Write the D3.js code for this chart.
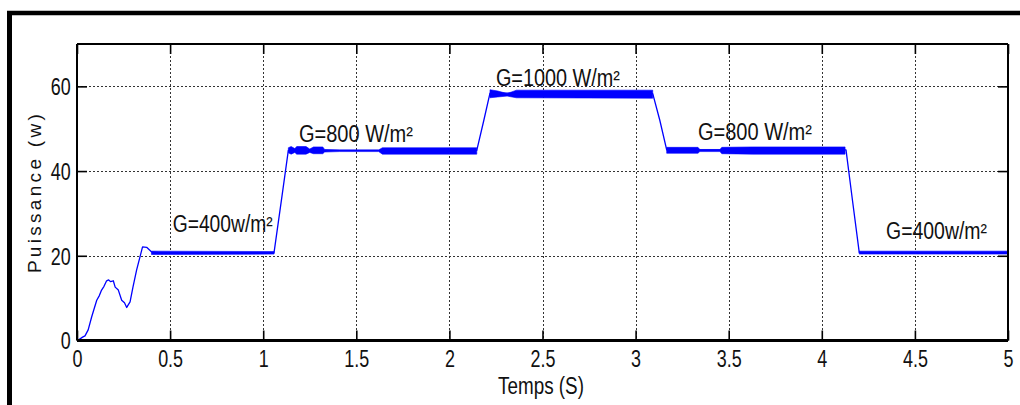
<!DOCTYPE html>
<html>
<head>
<meta charset="utf-8">
<script src="https://cdn.jsdelivr.net/npm/d3@7"></script>
<style>
  html, body { margin: 0; padding: 0; background: #fff; }
  svg { display: block; }
  text { font-family: "Liberation Sans", Arial, sans-serif; }
</style>
</head>
<body>
<svg id="chart" width="1020" height="405"></svg>
<script>
// ---- Data ----
// main trace: [time (s), power (W)]
const traceTime  = [0, 0.007, 0.03, 0.043, 0.06, 0.079, 0.09, 0.106, 0.12, 0.132, 0.145, 0.159, 0.17, 0.18, 0.195, 0.205, 0.222, 0.24, 0.255, 0.267, 0.285, 0.30, 0.32, 0.352, 0.374, 0.401, 0.45, 1.058, 1.099, 1.135, 2.147, 2.185, 2.218, 3.092, 3.13, 3.167, 4.13, 4.165, 4.201, 5.0];
const tracePower = [0, 0.1, 0.8, 1.1, 2.5, 5.6, 7.2, 9.5, 10.6, 11.9, 12.8, 14.1, 14.3, 13.9, 14.1, 12.6, 11.9, 9.5, 8.9, 7.8, 9.1, 12.5, 16.6, 22.1, 22.0, 20.9, 20.7, 20.7, 33.5, 44.9, 44.9, 52.0, 58.4, 58.3, 52.0, 45.0, 45.0, 33.0, 20.8, 20.8];

// oscillation envelope (ripple band): time, lower, upper
const bandTime  = [0.40, 1.058, null, 1.135, 1.15, 1.17, 1.18, 1.23, 1.25, 1.27, 1.32, 1.33, 1.41, 1.62, 1.64, 2.147, null, 2.218, 2.26, 2.31, 2.36, 3.092, null, 3.167, 3.335, 3.345, 3.453, 3.463, 3.63, 4.125, null, 4.201, 5.0];
const bandLow   = [20.3, 20.4, null, 44.3, 44.0, 44.4, 44.0, 44.0, 44.4, 44.1, 44.1, 44.5, 44.6, 44.6, 44.0, 44.0, null, 57.3, 57.5, 57.7, 57.3, 57.2, null, 44.2, 44.2, 44.6, 44.6, 44.1, 44.0, 44.0, null, 20.4, 20.4];
const bandHigh  = [21.1, 21.0, null, 45.5, 45.8, 45.3, 45.8, 45.8, 45.2, 45.7, 45.7, 45.1, 45.0, 45.0, 45.5, 45.5, null, 59.2, 58.9, 58.3, 59.1, 59.1, null, 45.6, 45.6, 45.1, 45.1, 45.6, 45.7, 45.7, null, 21.1, 21.1];

const xTicks = [0, 0.5, 1, 1.5, 2, 2.5, 3, 3.5, 4, 4.5, 5];
const xTickLabels = ["0", "0.5", "1", "1.5", "2", "2.5", "3", "3.5", "4", "4.5", "5"];
const yTicks = [0, 20, 40, 60];
const yTickLabels = ["0", "20", "40", "60"];

const annotations = ["G=400w/m²", "G=800 W/m²", "G=1000 W/m²", "G=800 W/m²", "G=400w/m²"];
const annotTime   = [0.514, 1.192, 2.25, 3.335, 4.345];
const annotPower  = [25.6, 46.9, 60.1, 47.3, 24.0];

const xLabel = "Temps (S)";
const yLabel = "Puissance (w)";

// ---- Layout ----
const L = 77, R = 1008, T = 44, B = 340.5;
const svg = d3.select("#chart");
const x = d3.scaleLinear().domain([0, 5]).range([L, R]);
const y = d3.scaleLinear().domain([0, 70]).range([B, T]);
const SX = 0.78; // horizontal condensation for the narrow MATLAB font

svg.append("rect").attr("width", 1020).attr("height", 405).attr("fill", "#fff");

// outer frame
svg.append("line").attr("x1", 7).attr("x2", 1020).attr("y1", 13).attr("y2", 13)
  .attr("stroke", "#000").attr("stroke-width", 4.5);
svg.append("line").attr("x1", 9.5).attr("x2", 9.5).attr("y1", 11).attr("y2", 405)
  .attr("stroke", "#000").attr("stroke-width", 5);

// grid
const grid = svg.append("g").attr("stroke", "#333").attr("stroke-width", 1).attr("stroke-dasharray", "2,2");
grid.selectAll("line.vx").data(xTicks.filter(d => d > 0 && d < 5)).join("line")
  .attr("x1", d => Math.round(x(d)) + 0.5).attr("x2", d => Math.round(x(d)) + 0.5)
  .attr("y1", T).attr("y2", B);
grid.selectAll("line.hy").data(yTicks.filter(d => d > 0)).join("line")
  .attr("y1", d => Math.round(y(d)) + 0.5).attr("y2", d => Math.round(y(d)) + 0.5)
  .attr("x1", L).attr("x2", R);

// data: ripple band
const idx = d3.range(bandTime.length);
const area = d3.area()
  .defined(i => bandTime[i] !== null)
  .x(i => x(bandTime[i]))
  .y0(i => y(bandLow[i]))
  .y1(i => y(bandHigh[i]));
svg.append("path").attr("d", area(idx)).attr("fill", "#0000ff").attr("stroke", "#0000ff").attr("stroke-width", 0.6);

// data: main trace
const line = d3.line().x(i => x(traceTime[i])).y(i => y(tracePower[i]));
svg.append("path").attr("d", line(d3.range(traceTime.length)))
  .attr("fill", "none").attr("stroke", "#0000ff").attr("stroke-width", 1.3).attr("stroke-linejoin", "round");

// axes (MATLAB box with inward ticks)
const tickLen = 10;
const xb = svg.append("g").attr("transform", `translate(0,${B})`)
  .call(d3.axisBottom(x).tickValues(xTicks).tickSizeInner(-tickLen).tickSizeOuter(0).tickPadding(14)
    .tickFormat((d, i) => xTickLabels[i]));
const xt = svg.append("g").attr("transform", `translate(0,${T})`)
  .call(d3.axisTop(x).tickValues(xTicks).tickSizeInner(-tickLen).tickSizeOuter(0).tickFormat(""));
const yl = svg.append("g").attr("transform", `translate(${L},0)`)
  .call(d3.axisLeft(y).tickValues(yTicks).tickSizeInner(-tickLen).tickSizeOuter(0).tickPadding(8)
    .tickFormat((d, i) => yTickLabels[i]));
const yr = svg.append("g").attr("transform", `translate(${R},0)`)
  .call(d3.axisRight(y).tickValues(yTicks).tickSizeInner(-tickLen).tickSizeOuter(0).tickFormat(""));

[xb, xt, yl, yr].forEach(g => {
  g.select(".domain").remove();
  g.selectAll(".tick line").attr("stroke", "#000").attr("stroke-width", 1.6);
  g.selectAll("text").attr("font-family", "Liberation Sans, Arial, sans-serif")
    .attr("font-size", 23).attr("fill", "#111").attr("transform", `scale(${SX},1)`);
});
xb.selectAll("text").attr("dy", null).attr("y", 27);
yl.selectAll("text").attr("dy", "0.36em");

// box
svg.append("line").attr("x1", L).attr("x2", R).attr("y1", T).attr("y2", T).attr("stroke", "#000").attr("stroke-width", 2);
svg.append("line").attr("x1", L).attr("x2", R).attr("y1", B).attr("y2", B).attr("stroke", "#000").attr("stroke-width", 3);
svg.append("line").attr("x1", L).attr("x2", L).attr("y1", T).attr("y2", B).attr("stroke", "#000").attr("stroke-width", 2);
svg.append("line").attr("x1", R).attr("x2", R).attr("y1", T).attr("y2", B).attr("stroke", "#000").attr("stroke-width", 2);

// annotations
const annWidth = [100, 114, 124, 114, 101];
svg.selectAll("text.ann").data(annotations).join("text")
  .attr("class", "ann")
  .attr("x", (d, i) => x(annotTime[i]))
  .attr("y", (d, i) => y(annotPower[i]))
  .attr("font-size", 23).attr("fill", "#111")
  .attr("textLength", (d, i) => annWidth[i]).attr("lengthAdjust", "spacingAndGlyphs")
  .text(d => d);

// axis labels
svg.append("text").attr("transform", `translate(541,394) scale(0.82,1)`)
  .attr("text-anchor", "middle").attr("font-size", 23).attr("fill", "#111").text(xLabel);
svg.append("text").attr("transform", "translate(41,192) rotate(-90)")
  .attr("text-anchor", "middle")
  .attr("font-size", 19).attr("letter-spacing", 3.3).attr("fill", "#111").text(yLabel);
</script>
</body>
</html>
